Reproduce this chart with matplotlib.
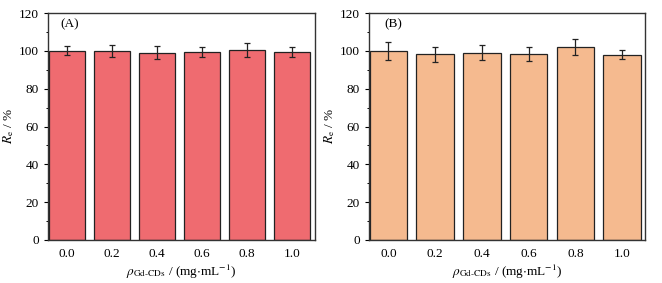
import matplotlib
import numpy as np

matplotlib.use("Agg")
import matplotlib.pyplot as plt
from matplotlib.ticker import MultipleLocator

conc_labels = ["0.0", "0.2", "0.4", "0.6", "0.8", "1.0"]
re_a = [100.0, 100.0, 99.0, 99.6, 100.5, 99.4]
err_a = [2.3, 3.2, 3.4, 2.6, 3.6, 2.4]
re_b = [100.0, 98.2, 99.1, 98.2, 102.0, 97.9]
err_b = [4.6, 4.0, 3.9, 3.7, 4.3, 2.3]

plt.rcParams["font.family"] = ["Liberation Serif", "DejaVu Serif"]
plt.rcParams["mathtext.fontset"] = "stix"


def draw_panel(ax, values, errors, color, tag, tag_x):
    x = np.arange(len(values))
    ax.bar(x, values, width=0.8, color=color, edgecolor="#222222", linewidth=0.9,
           yerr=errors, error_kw={"ecolor": "#222222", "elinewidth": 0.9,
                                  "capsize": 2.5, "capthick": 0.9})
    ax.set_xlim(-0.42, 5.5)
    ax.set_ylim(0, 120)
    ax.set_xticks(x)
    ax.set_xticklabels(conc_labels)
    ax.yaxis.set_major_locator(MultipleLocator(20))
    ax.yaxis.set_minor_locator(MultipleLocator(10))
    ax.tick_params(axis="x", length=0, labelsize=9.5, pad=6)
    ax.tick_params(axis="y", which="major", direction="out", length=3, width=0.8, labelsize=9.5)
    ax.tick_params(axis="y", which="minor", direction="out", length=1.8, width=0.7)
    for sp in ax.spines.values():
        sp.set_linewidth(1.0)
        sp.set_color("#333333")
    ax.set_ylabel(r"$R_\mathrm{e}$ / %", fontsize=9.5, labelpad=2)
    ax.set_xlabel(r"$\rho_{\mathrm{Gd\text{-}CDs}}$ / (mg$\cdot$mL$^{-1}$)", fontsize=9.5, labelpad=2)
    ax.text(tag_x, 0.95, tag, transform=ax.transAxes, fontsize=9.5, va="center", ha="left")


fig = plt.figure(figsize=(6.62, 2.83), dpi=100)
ax1 = fig.add_axes([0.0725, 0.152, 0.403, 0.802])
ax2 = fig.add_axes([0.557, 0.152, 0.418, 0.802])

draw_panel(ax1, re_a, err_a, "#EF6B70", "(A)", 0.045)
draw_panel(ax2, re_b, err_b, "#F5BA8F", "(B)", 0.055)

fig.savefig("out.png", dpi=100)
